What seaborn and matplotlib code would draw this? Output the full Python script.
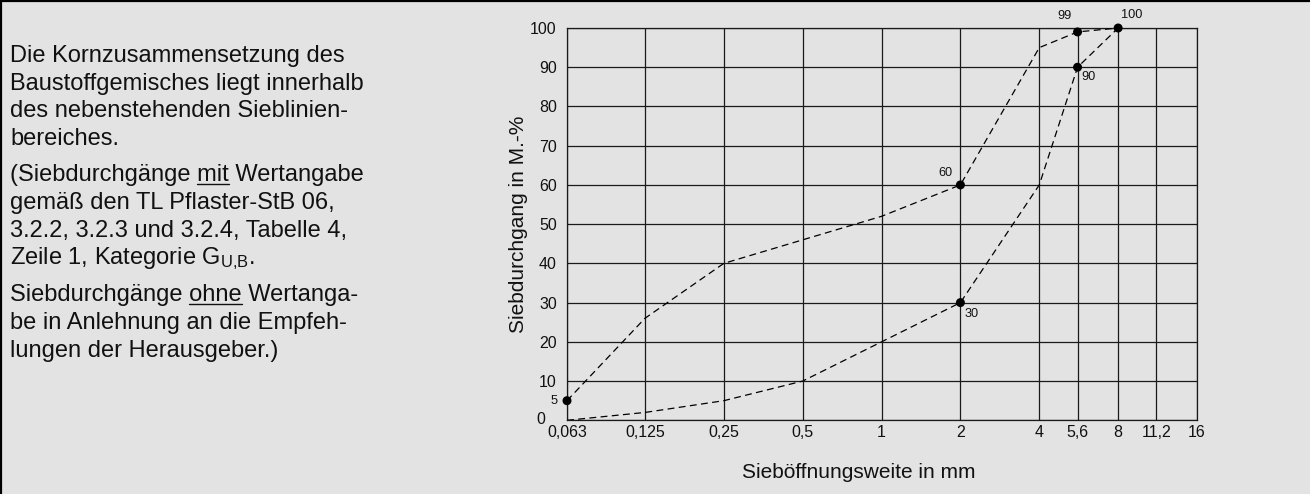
import numpy as np
import matplotlib
matplotlib.use("Agg")
import matplotlib.pyplot as plt
from matplotlib.lines import Line2D
from matplotlib.ticker import FuncFormatter, NullLocator
import seaborn as sns


# sieve sizes (mm) and the two limit curves of the grading envelope (M.-%)
SIEVES      = [0.063, 0.125, 0.25, 0.5, 1, 2, 4, 5.6, 8]
UPPER_CURVE = [5, 26, 40, 46, 52, 60, 95, 99, 100]
LOWER_CURVE = [0, 2, 5, 10, 20, 30, 60, 90, 100]

# points with a stated value
MARK_X      = [0.063, 2, 5.6, 8, 5.6, 2]
MARK_Y      = [5, 60, 99, 100, 90, 30]
MARK_LABELS = ["5", "60", "99", "100", "90", "30"]

X_TICKS       = [0.063, 0.125, 0.25, 0.5, 1, 2, 4, 5.6, 8, 11.2, 16]
X_TICK_LABELS = ["0,063", "0,125", "0,25", "0,5", "1", "2", "4", "5,6", "8", "11,2", "16"]
Y_TICKS       = [0, 10, 20, 30, 40, 50, 60, 70, 80, 90, 100]

X_LABEL = "Sieböffnungsweite in mm"
Y_LABEL = "Siebdurchgang in M.-%"

PARAGRAPHS = [
    ["Die Kornzusammensetzung des",
     "Baustoffgemisches liegt innerhalb",
     "des nebenstehenden Sieblinien-",
     "bereiches."],
    ["(Siebdurchgänge mit Wertangabe",
     "gemäß den TL Pflaster-StB 06,",
     "3.2.2, 3.2.3 und 3.2.4, Tabelle 4,",
     r"Zeile 1, Kategorie $\mathregular{G_{U{,}B}}$."],
    ["Siebdurchgänge ohne Wertanga-",
     "be in Anlehnung an die Empfeh-",
     "lungen der Herausgeber.)"],
]
UNDERLINED = {(1, 0): "mit", (2, 0): "ohne"}

# label offsets in pixels (dx, dy) for each marked point
LABEL_OFFSETS = [(-13, 0), (-15, 12), (-13, 16), (14, 13), (11, -10), (11, -11)]

BG     = "#e3e3e3"
INK    = "#111111"
W, H   = 1310, 494
FONT   = "Liberation Sans"

sns.set_style("white", {"axes.facecolor": BG, "figure.facecolor": BG})
plt.rcParams["font.family"] = [FONT, "DejaVu Sans"]
plt.rcParams["mathtext.fontset"] = "custom"
plt.rcParams["mathtext.rm"] = FONT
plt.rcParams["mathtext.default"] = "regular"

fig = plt.figure(figsize=(W / 100, H / 100), dpi=100)
fig.patch.set_facecolor(BG)

ax_l, ax_r, ax_t, ax_b = 567, 1197, 28, 420.3
ax = fig.add_axes([ax_l / W, 1 - ax_b / H, (ax_r - ax_l) / W, (ax_b - ax_t) / H])
ax.set_facecolor(BG)

ax.set_xscale("log", base=2)
ax.set_xlim(0.063, 16)
ax.set_ylim(0, 100)

ax.set_xticks(X_TICKS)
ax.set_xticklabels(X_TICK_LABELS)
ax.xaxis.set_minor_locator(NullLocator())
ax.set_yticks(Y_TICKS)
# the "0" of the y axis sits further left in the original, drawn separately below
ax.yaxis.set_major_formatter(FuncFormatter(lambda v, pos: "" if v == 0 else f"{v:g}"))
ax.tick_params(axis="x", length=0, pad=3.2, labelsize=11.5, colors=INK)
ax.tick_params(axis="y", length=0, pad=7.3, labelsize=11.5, colors=INK)
ax.annotate("0", (0.063, 0), xytext=(-22, 1), textcoords="offset pixels",
            ha="right", va="center", fontsize=11.5, color=INK, annotation_clip=False)

ax.grid(True, which="major", color="#1a1a1a", linewidth=0.9)
for side in ["left", "right", "top", "bottom"]:
    ax.spines[side].set_visible(True)
    ax.spines[side].set_color("#1a1a1a")
    ax.spines[side].set_linewidth(0.9)

dash = (0, (5.5, 3.5))
sns.lineplot(x=SIEVES, y=UPPER_CURVE, ax=ax, color="black", linewidth=0.9,
             linestyle=dash, estimator=None, sort=False, zorder=3)
sns.lineplot(x=SIEVES, y=LOWER_CURVE, ax=ax, color="black", linewidth=0.9,
             linestyle=dash, estimator=None, sort=False, zorder=3)
sns.scatterplot(x=MARK_X, y=MARK_Y, ax=ax, color="black", s=42,
                edgecolor="none", zorder=4, clip_on=False)

for x, y, lab, (dx, dy) in zip(MARK_X, MARK_Y, MARK_LABELS, LABEL_OFFSETS):
    ax.annotate(lab, (x, y), xytext=(dx, dy), textcoords="offset pixels",
                ha="center", va="center", fontsize=9.2, color=INK,
                annotation_clip=False)

ax.set_xlabel(X_LABEL, fontsize=15, color=INK)
ax.set_ylabel(Y_LABEL, fontsize=15, color=INK)
ax.xaxis.set_label_coords((859 - ax_l) / (ax_r - ax_l), (ax_b - 463) / (ax_b - ax_t))
ax.yaxis.set_label_coords((528 - ax_l) / (ax_r - ax_l), 0.5)

# left-hand explanatory text
renderer = fig.canvas.get_renderer()
text_x = 10
line_step = 27.7
para_starts = [62, 181.5, 301.5]


def text_width(s):
    t = fig.text(0, 0, s, fontsize=17)
    w = t.get_window_extent(renderer).width
    t.remove()
    return w


for p, lines in enumerate(PARAGRAPHS):
    for i, line in enumerate(lines):
        base = para_starts[p] + i * line_step
        fig.text(text_x / W, 1 - base / H, line, fontsize=17, color=INK,
                 va="baseline", ha="left")
        if (p, i) in UNDERLINED:
            word = UNDERLINED[(p, i)]
            prefix = line[: line.index(word) + len(word)]
            start = text_width(prefix) - text_width(word)
            end = text_width(prefix)
            uy = 1 - (base + 2.2) / H
            fig.add_artist(Line2D([(text_x + start) / W, (text_x + end) / W], [uy, uy],
                                  transform=fig.transFigure, color=INK, linewidth=1.0))

# frame on top and left edge
fig.add_artist(Line2D([0, 1], [1 - 0.8 / H, 1 - 0.8 / H], transform=fig.transFigure,
                      color="black", linewidth=1.6))
fig.add_artist(Line2D([1.0 / W, 1.0 / W], [0, 1], transform=fig.transFigure,
                      color="black", linewidth=1.6))

fig.savefig("out.png", dpi=100, facecolor=BG)
plt.close(fig)
